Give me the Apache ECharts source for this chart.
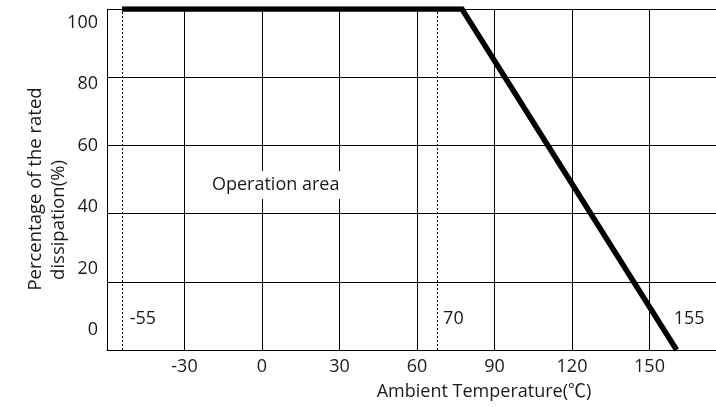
<!DOCTYPE html>
<html>
<head>
<meta charset="utf-8">
<script src="https://cdn.jsdelivr.net/npm/echarts@6/dist/echarts.min.js"></script>
<style>
html,body{margin:0;padding:0;background:#fff;}
#c{width:716px;height:407px;}
</style>
</head>
<body>
<div id="c"></div>
<script>
// ---- data ----
const curveX = [-54.2, 77.4, 160.5];      // derating curve (°C)
const curveY = [100, 100, 0];             // % of rated dissipation
const guideX = [-54.2, 67.8];             // dotted guide lines
const annoText = ['-55', '70', '155'];    // guide annotations
const annoX = [-51.2, 70.1, 159.4];
const annoY = [9, 9, 9];
const areaText = ['Operation area'];
const areaX = [5.3];
const areaY = [48.4];
const yTickLabels = [0, 20, 40, 60, 80, 100];
const xLabelHidden = [-60, 180];

const FONT = "'Open Sans', 'Noto Sans CJK KR', sans-serif";
const TXT = '#1a1a1a';

const chart = echarts.init(document.getElementById('c'), null, {renderer: 'canvas'});
chart.setOption({
  animation: false,
  backgroundColor: '#fff',
  grid: {left: 107, top: 9, right: -11, bottom: 57, containLabel: false, outerBoundsMode: 'none'},
  xAxis: {
    type: 'value', min: -60, max: 180, interval: 30,
    axisLine: {show: true, lineStyle: {color: '#000', width: 1}},
    axisTick: {show: false},
    splitLine: {show: true, lineStyle: {color: '#000', width: 1}},
    axisLabel: {
      fontFamily: FONT, fontSize: 18, color: TXT, margin: 8,
      formatter: v => xLabelHidden.includes(v) ? '' : String(v)
    }
  },
  yAxis: [{
    type: 'value', min: 0, max: 100, interval: 20,
    axisLine: {show: true, lineStyle: {color: '#000', width: 1}},
    axisTick: {show: false},
    splitLine: {show: true, lineStyle: {color: '#000', width: 1}},
    axisLabel: {show: false}
  }, {
    type: 'value', min: -6.39, max: 104.4, position: 'left',
    axisLine: {show: false}, axisTick: {show: false}, splitLine: {show: false},
    axisLabel: {
      show: true, customValues: yTickLabels, margin: 9,
      fontFamily: FONT, fontSize: 18, color: TXT
    }
  }],
  graphic: [
    {type: 'text', x: 484, y: 392, z: 10,
     style: {text: 'Ambient Temperature(\u2103)', fontFamily: FONT, fontSize: 18, fill: TXT,
             textAlign: 'center', textVerticalAlign: 'middle', align: 'center', verticalAlign: 'middle'}},
    {type: 'text', x: 36, y: 189, rotation: Math.PI / 2, z: 10,
     style: {text: 'Percentage of the rated', fontFamily: FONT, fontSize: 18.5, fill: TXT,
             textAlign: 'center', textVerticalAlign: 'middle', align: 'center', verticalAlign: 'middle'}},
    {type: 'text', x: 59, y: 220, rotation: Math.PI / 2, z: 10,
     style: {text: 'dissipation(%)', fontFamily: FONT, fontSize: 18.5, fill: TXT,
             textAlign: 'center', textVerticalAlign: 'middle', align: 'center', verticalAlign: 'middle'}}
  ],
  series: [
    {
      type: 'line', name: 'curve', yAxisIndex: 0, z: 5,
      data: curveX.map((x, i) => [x, curveY[i]]),
      symbol: 'none', silent: true,
      lineStyle: {color: '#000', width: 5.5, join: 'miter', cap: 'butt'},
      markLine: {
        silent: true, symbol: 'none', label: {show: false},
        lineStyle: {color: '#000', width: 1, type: [2, 2]},
        data: guideX.map(x => ({xAxis: x}))
      }
    },
    {
      type: 'scatter', name: 'anno', yAxisIndex: 0, symbolSize: 0, silent: true, z: 6,
      itemStyle: {opacity: 1},
      data: annoX.map((x, i) => ({value: [x, annoY[i]], name: annoText[i]})),
      label: {show: true, position: 'right', distance: 0, formatter: p => p.name, opacity: 1,
              fontFamily: FONT, fontSize: 18, color: TXT}
    },
    {
      type: 'scatter', name: 'area', yAxisIndex: 0, symbolSize: 0, silent: true, z: 6,
      itemStyle: {opacity: 1},
      data: areaX.map((x, i) => ({value: [x, areaY[i]], name: areaText[i]})),
      label: {show: true, position: 'inside', formatter: p => p.name, opacity: 1,
              fontFamily: FONT, fontSize: 18, color: TXT,
              backgroundColor: '#fff', padding: [5, 5]}
    }
  ]
});
</script>
</body>
</html>
